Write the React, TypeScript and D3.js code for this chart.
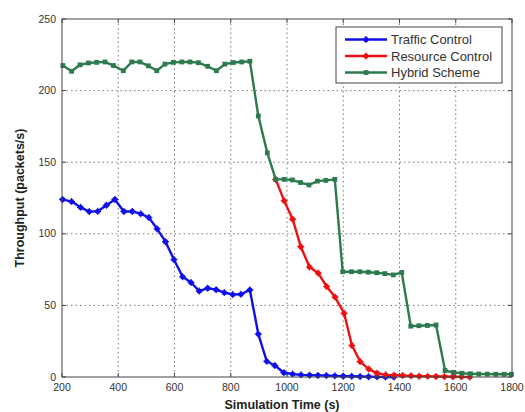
import React from "react";
import * as d3 from "d3";

const xTicks = [200, 400, 600, 800, 1000, 1200, 1400, 1600, 1800];
const yTicks = [0, 50, 100, 150, 200, 250];

const trafficX = [202, 234, 266, 297, 327, 358, 388, 420, 450, 480, 509, 538, 568, 598, 629, 659, 688, 718, 748, 777, 807, 836, 868, 898, 928, 957, 989, 1020, 1050, 1080, 1110, 1140, 1170, 1200, 1230, 1260, 1290, 1320, 1350, 1380];
const trafficY = [124, 122.5, 118.5, 115.5, 115.7, 120, 124, 115.6, 115.6, 114, 111.3, 103.5, 94.5, 82, 70, 66, 60, 62, 61, 59, 57.6, 57.8, 60.8, 30, 11, 8, 3, 2.1, 1.5, 1.3, 1.1, 1.0, 0.8, 0.6, 0.5, 0.3, 0.2, 0.1, 0, 0];

const hybridX = [203, 234, 264, 294, 323, 353, 383, 418, 448, 477, 507, 537, 566, 596, 626, 655, 685, 718, 749, 779, 809, 839, 868, 898, 930, 960, 990, 1019, 1048, 1078, 1108, 1138, 1170, 1198, 1229, 1259, 1289, 1319, 1348, 1378, 1408, 1440, 1469, 1499, 1530, 1562, 1592, 1622, 1652, 1682, 1712, 1742, 1772, 1798];
const hybridY = [217.5, 213.5, 218, 219.3, 219.7, 220, 217.5, 213.9, 220, 220, 217.3, 213.9, 218.5, 219.7, 220, 220, 219.5, 217, 213.9, 218.5, 219.6, 220, 220.5, 182.3, 156.5, 138, 138, 137.6, 135.8, 134.1, 136.8, 137.3, 138, 73.5, 73.5, 73.5, 73.2, 72.8, 72.2, 71.3, 73, 35.5, 35.8, 36, 36.3, 4.5, 3.2, 2.6, 2.3, 2.1, 2, 1.9, 1.9, 1.9];

// Resource Control coincides with Hybrid Scheme up to ~960 s (hidden beneath it)
const resourceX = [960, 990, 1020, 1049, 1080, 1111, 1141, 1171, 1203, 1231, 1260, 1291, 1320, 1351, 1381, 1411, 1441, 1470, 1500, 1530, 1560, 1590, 1620, 1650];
const resourceY = [138, 123, 110.2, 91, 76.8, 72.6, 63.2, 55.8, 44.5, 22, 10.8, 5.5, 2.7, 1.5, 1.3, 1.0, 0.8, 0.6, 0.5, 0.4, 0.3, 0.2, 0.1, 0];

const seriesNames = ["Traffic Control", "Resource Control", "Hybrid Scheme"];
const seriesColors = ["#1010e8", "#ee1111", "#2c7a4e"];

const W = 525;
const H = 412;
const L = 62, R = 512, T = 19, B = 377;

export default function App() {
  const x = d3.scaleLinear().domain([200, 1800]).range([L, R]);
  const y = d3.scaleLinear().domain([0, 250]).range([B, T]);
  const line = d3.line<[number, number]>().x((d) => x(d[0])).y((d) => y(d[1]));

  const series = [
    { name: seriesNames[0], color: seriesColors[0], pts: trafficX.map((v, i) => [v, trafficY[i]] as [number, number]), marker: "circle" },
    { name: seriesNames[1], color: seriesColors[1], pts: resourceX.map((v, i) => [v, resourceY[i]] as [number, number]), marker: "circle" },
    { name: seriesNames[2], color: seriesColors[2], pts: hybridX.map((v, i) => [v, hybridY[i]] as [number, number]), marker: "square" },
  ];

  const drawMarker = (m: string, cx: number, cy: number, color: string, key: string) =>
    m === "square" ? (
      <rect key={key} x={cx - 2.4} y={cy - 2.4} width={4.8} height={4.8} fill={color} />
    ) : (
      <g key={key}>
        <circle cx={cx} cy={cy} r={2.6} fill={color} />
        <path d={`M${cx - 3.5},${cy}H${cx + 3.5}M${cx},${cy - 3.5}V${cy + 3.5}`} stroke={color} strokeWidth={1.2} />
      </g>
    );

  const font = "'Liberation Sans', Arial, Helvetica, sans-serif";
  const legendY = [39.5, 56, 72.5];

  return (
    <svg width={W} height={H} style={{ position: "absolute", left: 0, top: 0, background: "#fff" }} fontFamily={font}>
      <rect x={0} y={0} width={W} height={H} fill="#fff" />
      {/* grid */}
      {xTicks.slice(1, -1).map((t) => (
        <line key={"gx" + t} x1={x(t)} x2={x(t)} y1={T} y2={B} stroke="#555" strokeWidth={0.8} strokeDasharray="1.5,3" />
      ))}
      {yTicks.slice(1, -1).map((t) => (
        <line key={"gy" + t} x1={L} x2={R} y1={y(t)} y2={y(t)} stroke="#555" strokeWidth={0.8} strokeDasharray="1.5,3" />
      ))}
      {/* ticks */}
      {xTicks.map((t) => (
        <g key={"tx" + t}>
          <line x1={x(t)} x2={x(t)} y1={B} y2={B - 4} stroke="#444" />
          <line x1={x(t)} x2={x(t)} y1={T} y2={T + 4} stroke="#444" />
          <text x={x(t)} y={391} textAnchor="middle" fontSize={10.5} fill="#333">{t}</text>
        </g>
      ))}
      {yTicks.map((t) => (
        <g key={"ty" + t}>
          <line x1={L} x2={L + 4} y1={y(t)} y2={y(t)} stroke="#444" />
          <line x1={R} x2={R - 4} y1={y(t)} y2={y(t)} stroke="#444" />
          <text x={56} y={y(t) + 3.5} textAnchor="end" fontSize={10.5} fill="#333">{t}</text>
        </g>
      ))}
      {/* series */}
      {series.map((s, si) => (
        <g key={"s" + si}>
          <path d={line(s.pts) || ""} fill="none" stroke={s.color} strokeWidth={2.4} strokeLinejoin="round" />
          {s.pts.map((p, i) => drawMarker(s.marker, x(p[0]), y(p[1]), s.color, "m" + si + "-" + i))}
        </g>
      ))}
      {/* frame */}
      <rect x={L} y={T} width={R - L} height={B - T} fill="none" stroke="#444" strokeWidth={1} />
      {/* labels */}
      <text x={282} y={409} textAnchor="middle" fontSize={12.5} fontWeight="bold" fill="#222">Simulation Time (s)</text>
      <text transform={`translate(24,198) rotate(-90)`} textAnchor="middle" fontSize={12.5} fontWeight="bold" fill="#222">Throughput (packets/s)</text>
      {/* legend */}
      <rect x={336} y={27} width={166} height={56} fill="#fff" stroke="#444" strokeWidth={1} />
      {series.map((s, i) => (
        <g key={"lg" + i}>
          <line x1={345} x2={387} y1={legendY[i]} y2={legendY[i]} stroke={s.color} strokeWidth={2.4} />
          {drawMarker(s.marker, 366, legendY[i], s.color, "lm" + i)}
          <text x={391} y={legendY[i] + 4.5} fontSize={13} fill="#333">{s.name}</text>
        </g>
      ))}
    </svg>
  );
}
